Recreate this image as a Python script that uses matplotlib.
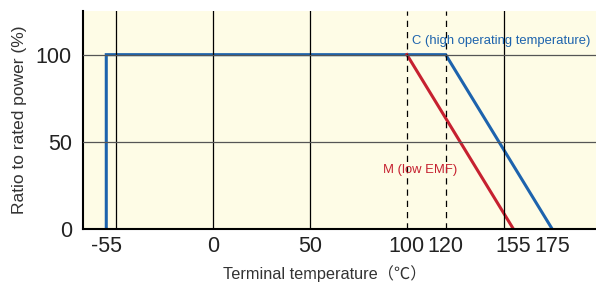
import matplotlib
matplotlib.use("Agg")
import matplotlib.pyplot as plt

# derating curves (temperature in C, ratio to rated power in %)
c_temp = [-55, -55, 120, 175]
c_ratio = [0, 100, 100, 0]
m_temp = [100, 155]
m_ratio = [100, 0]

xticks = [-55, 0, 50, 100, 120, 155, 175]
yticks = [0, 50, 100]
solid_vlines = [-50, 0, 50, 150]
dashed_vlines = [100, 120]
hlines = [50, 100]

blue = "#1d63ad"
red = "#c62130"

plt.rcParams["font.family"] = ["Liberation Sans", "Noto Sans CJK JP", "DejaVu Sans"]
plt.rcParams["axes.unicode_minus"] = False

fig = plt.figure(figsize=(5.96, 2.84), dpi=100)
ax = fig.add_axes([83 / 596, 1 - 229.3 / 284, 513 / 596, 218.3 / 284])
ax.set_facecolor("#fefce6")

ax.plot(c_temp, c_ratio, color=blue, lw=2.2, zorder=2, solid_joinstyle="miter")
ax.plot(m_temp, m_ratio, color=red, lw=2.2, zorder=2)

for x in solid_vlines:
    ax.axvline(x, color="black", lw=0.9, zorder=3)
for x in dashed_vlines:
    ax.axvline(x, color="black", lw=0.9, ls=(0, (5, 4)), zorder=3)
for y in hlines:
    ax.axhline(y, color="#555555", lw=0.9, zorder=3)

ax.text(102.5, 107.8, "C (high operating temperature)", color=blue,
        fontsize=9.4, va="center", ha="left")
ax.text(87.5, 34, "M (low EMF)", color=red, fontsize=9.4, va="center", ha="left")

ax.set_xlim(-67, 197.5)
ax.set_ylim(0, 125)
ax.set_xticks(xticks)
ax.set_xticklabels([str(t) for t in xticks])
ax.set_yticks(yticks)
ax.tick_params(length=0, labelsize=15.5, colors="#222222")
ax.tick_params(axis="x", pad=5)
ax.tick_params(axis="y", pad=8)

for s in ["top", "right"]:
    ax.spines[s].set_visible(False)
for s in ["left", "bottom"]:
    ax.spines[s].set_linewidth(1.5)

ax.set_xlabel("Terminal temperature（℃）", fontsize=11.7, color="#333333", va="center")
ax.xaxis.set_label_coords((325 - 83) / 513, -(274 - 229.3) / 218.3)
ax.set_ylabel("Ratio to rated power (%)", fontsize=12.5, color="#333333", va="center")
ax.yaxis.set_label_coords(-(83 - 20) / 513, 0.5)

fig.savefig("out.png", dpi=100)
